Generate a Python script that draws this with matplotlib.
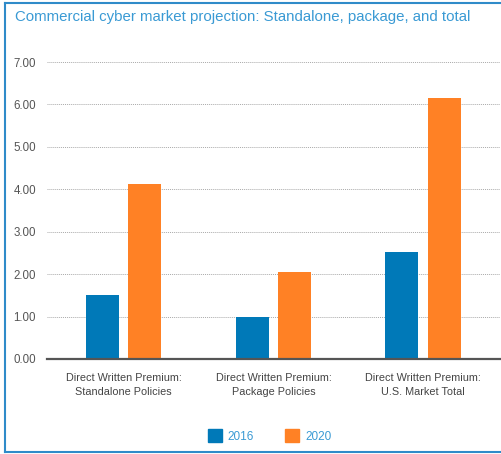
import matplotlib
matplotlib.use("Agg")
import matplotlib.pyplot as plt
import matplotlib.patches as mpatches
from matplotlib.lines import Line2D
import numpy as np

categories = ["Direct Written Premium:\nStandalone Policies",
              "Direct Written Premium:\nPackage Policies",
              "Direct Written Premium:\nU.S. Market Total"]
years = ["2016", "2020"]
values_2016 = [1.50, 1.00, 2.52]
values_2020 = [4.12, 2.05, 6.15]
yticks = [0, 1, 2, 3, 4, 5, 6, 7]

blue = "#0079b8"
orange = "#ff8125"
title_blue = "#3a9ad4"

plt.rcParams['font.family'] = ['Liberation Sans', 'DejaVu Sans']

fig = plt.figure(figsize=(5.02, 4.54), dpi=100)
ax = fig.add_axes([0.0936, 0.2093, 0.9024, 0.6541])

x = np.arange(len(categories))
w = 0.22
ax.bar(x - 0.143, values_2016, w, color=blue, zorder=3)
ax.bar(x + 0.140, values_2020, w, color=orange, zorder=3)

ax.set_xlim(-0.513, 2.513)
ax.set_ylim(0, 7)
ax.set_yticks(yticks)
ax.set_yticklabels([f"{v:.2f}" for v in yticks], fontsize=8.3, color="#555555")
ax.set_xticks(x)
ax.set_xticklabels(categories, fontsize=7.8, color="#444444", linespacing=1.55)
ax.tick_params(axis='both', length=0)
ax.tick_params(axis='y', pad=8)
ax.tick_params(axis='x', pad=10)

for v in yticks[1:]:
    ax.axhline(v, color="#aaaaaa", lw=0.7, ls=(0, (1, 1)), zorder=1)

for s in ["top", "right", "left"]:
    ax.spines[s].set_visible(False)
ax.spines["bottom"].set_color("#555555")
ax.spines["bottom"].set_linewidth(1.6)
ax.spines["bottom"].set_zorder(4)

fig.text(0.030, 0.962, "Commercial cyber market projection: Standalone, package, and total",
         fontsize=10.8, color=title_blue, va="center", ha="left")

handles = [mpatches.Patch(color=blue, label=years[0]),
           mpatches.Patch(color=orange, label=years[1])]
leg = fig.legend(handles=handles, loc="center", bbox_to_anchor=(0.537, 0.04), ncol=2,
                 frameon=False, fontsize=8.5, labelcolor=title_blue,
                 handlelength=1.2, handleheight=1.3, handletextpad=0.5, columnspacing=2.6)

# outer frame
frame_col = "#2f8bc9"
fig.add_artist(Line2D([0.010, 0.010], [0.004, 0.993], color=frame_col, lw=1.5))
fig.add_artist(Line2D([0.010, 1.0], [0.993, 0.993], color=frame_col, lw=1.5))
fig.add_artist(Line2D([0.010, 1.0], [0.004, 0.004], color=frame_col, lw=1.5))

fig.savefig("out.png", dpi=100)
